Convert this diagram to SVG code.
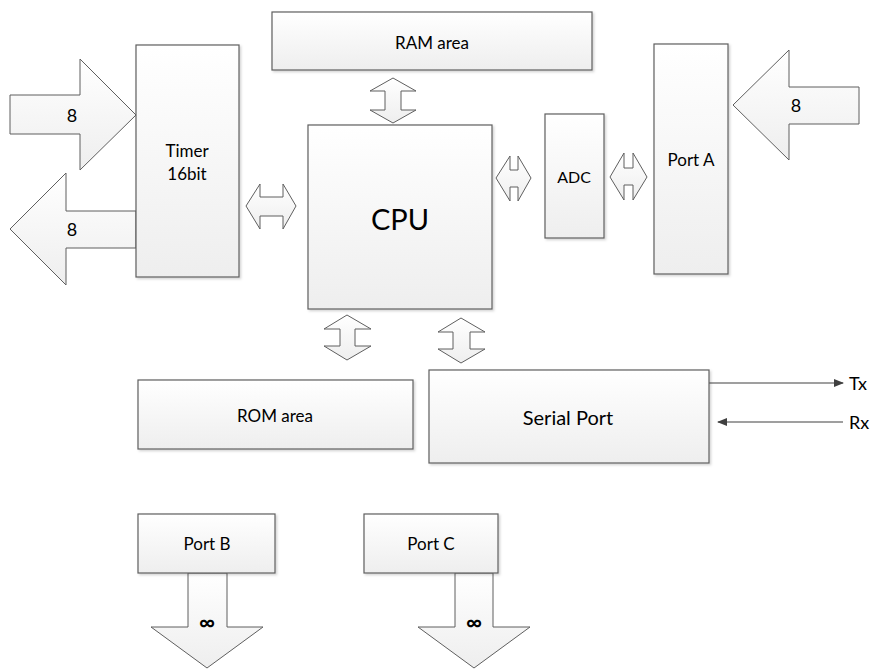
<svg xmlns="http://www.w3.org/2000/svg" width="883" height="670" viewBox="0 0 883 670">
<style>
.box{fill:url(#g);stroke:#5f5f5f;stroke-width:1.2}
.arr{fill:url(#g);stroke:#5f5f5f;stroke-width:1}
.t{font-family:Lato,"Liberation Sans",sans-serif;fill:#000;text-anchor:middle;dominant-baseline:central}
.s14{font-size:17px}.s16{font-size:18px}
.ln{stroke:#404040;stroke-width:1.2;fill:none}
</style>
<defs>
<linearGradient id="g" x1="0" y1="0" x2="0" y2="1">
<stop offset="0" stop-color="#ffffff"/><stop offset="1" stop-color="#eeeeee"/>
</linearGradient>
<filter id="sh" x="-5%" y="-5%" width="115%" height="115%">
<feDropShadow dx="1.5" dy="1.5" stdDeviation="1" flood-color="#000" flood-opacity="0.18"/>
</filter>
<marker id="ah" markerWidth="10" markerHeight="8" refX="9" refY="4" orient="auto" markerUnits="userSpaceOnUse">
<path d="M0,0 L10,4 L0,8 Z" fill="#404040"/>
</marker>
</defs>
<rect width="883" height="670" fill="#fff"/>

<g id="connectors">
<polygon class="arr" points="10,95 80,95 80,59 136,115 80,170 80,134 10,134"/>
<text class="t s16" x="72" y="115">8</text>
<polygon class="arr" points="136,211 66,211 66,173 10,229 66,285 66,248 136,248"/>
<text class="t s16" x="72" y="229">8</text>
<polygon class="arr" points="246,206 260,184 260,197 283,197 283,184 296,206 283,229 283,216 260,216 260,229"/>
<polygon class="arr" points="393,78 416,91 401,91 401,110 416,110 393,123 370,110 385,110 385,91 370,91"/>
<polygon class="arr" points="496,178 510,156 510,170 518,170 518,156 531,178 518,201 518,187 510,187 510,201"/>
<polygon class="arr" points="610,177 624,153 624,168 633,168 633,153 647,177 633,200 633,185 624,185 624,200"/>
<polygon class="arr" points="733,105 789,50 789,87 859,87 859,124 789,124 789,160"/>
<text class="t s16" x="796" y="105">8</text>
<polygon class="arr" points="347,315 371,329 355,329 355,346 371,346 347,360 324,346 340,346 340,329 324,329"/>
<polygon class="arr" points="461,318 485,332 470,332 470,349 485,349 461,363 438,349 453,349 453,332 438,332"/>
<line class="ln" x1="709" y1="383" x2="843" y2="383" marker-end="url(#ah)"/>
<line class="ln" x1="843" y1="422" x2="718" y2="422" marker-end="url(#ah)"/>
<text class="t s16" x="849" y="383" style="text-anchor:start">Tx</text>
<text class="t s16" x="849" y="422" style="text-anchor:start">Rx</text>
<polygon class="arr" points="188,573 227,573 227,627 263,627 207,668 151,627 188,627"/>
<text class="t" style="font-size:22px;font-weight:bold" x="207" y="621">∞</text>
<polygon class="arr" points="455,573 493,573 493,627 530,627 474,668 418,627 455,627"/>
<text class="t" style="font-size:22px;font-weight:bold" x="474" y="621">∞</text>
</g>

<g id="ram"><rect class="box" filter="url(#sh)" x="272" y="12" width="320" height="58"/><text class="t s14" x="432" y="42">RAM area</text></g>
<g id="timer"><rect class="box" filter="url(#sh)" x="136" y="45" width="103" height="232"/><text class="t s14" x="187" y="150">Timer</text><text class="t s14" x="187" y="173">16bit</text></g>
<g id="cpu"><rect class="box" filter="url(#sh)" x="308" y="125" width="184" height="184"/><text class="t" style="font-size:29px" x="400" y="218">CPU</text></g>
<g id="adc"><rect class="box" filter="url(#sh)" x="545" y="114" width="59" height="124"/><text class="t" style="font-size:16px" x="574" y="176">ADC</text></g>
<g id="porta"><rect class="box" filter="url(#sh)" x="654" y="44" width="74" height="230"/><text class="t s14" x="691" y="159">Port A</text></g>
<g id="rom"><rect class="box" filter="url(#sh)" x="138" y="380" width="275" height="69"/><text class="t s14" x="275" y="415">ROM area</text></g>
<g id="serial"><rect class="box" filter="url(#sh)" x="429" y="370" width="280" height="93"/><text class="t" style="font-size:20px" x="568" y="417">Serial Port</text></g>
<g id="portb"><rect class="box" filter="url(#sh)" x="138" y="514" width="137" height="59"/><text class="t s14" x="207" y="543">Port B</text></g>
<g id="portc"><rect class="box" filter="url(#sh)" x="364" y="514" width="134" height="59"/><text class="t s14" x="431" y="543">Port C</text></g>
</svg>
